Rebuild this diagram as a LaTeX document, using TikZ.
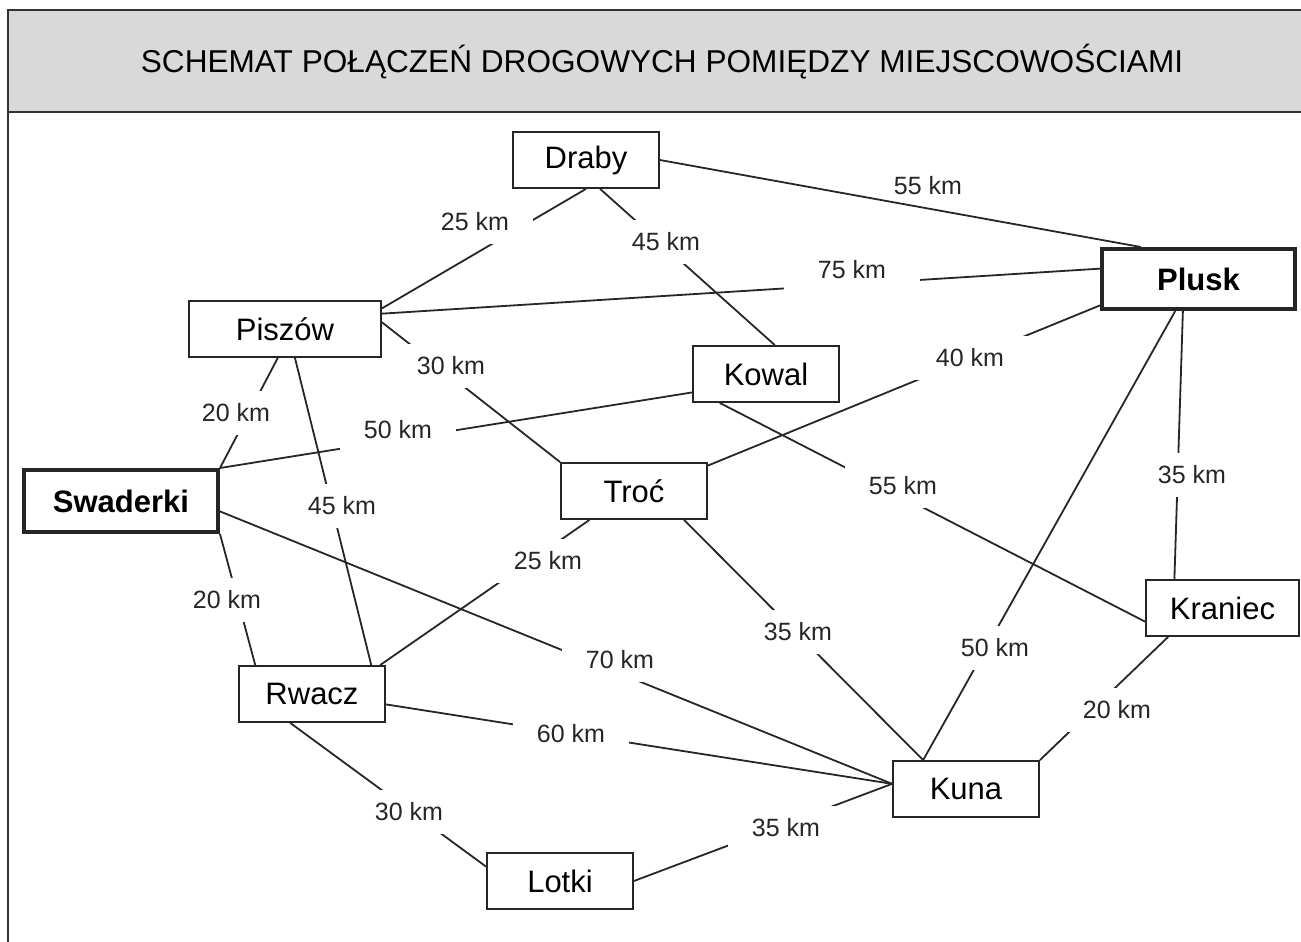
\documentclass[tikz,border=0pt]{standalone}
\usepackage{fontspec}
\setmainfont{Liberation Sans}
\usetikzlibrary{calc}

\tikzset{
	town/.style={draw=black!85, line width=1.8pt, fill=white, minimum width=146pt, minimum height=56pt, inner sep=0pt, font=\fontsize{31}{37}\selectfont},
	bigtown/.style={town, line width=4pt, font=\fontsize{31}{37}\selectfont\bfseries},
	road/.style={line width=1.8pt, black!85},
	dist/.style={fill=white, inner xsep=24pt, inner ysep=13pt, text=black!85, font=\fontsize{25}{30}\selectfont},
}

\begin{document}
\begin{tikzpicture}[x=1pt,y=-1pt]
	\useasboundingbox (0,0) rectangle (1301,942);
	\begin{scope}
		\clip (0,0) rectangle (1301,942);
		\fill[black!15] (8,10) rectangle (1330,112);	%header
		\draw[line width=2.5pt, black!80] (8,10) rectangle (1330,960);
		\draw[line width=2.5pt, black!80] (8,112) -- (1330,112);
	\end{scope}
	\node[font=\fontsize{31.6}{38}\selectfont] (title) at (662,62) {SCHEMAT POŁĄCZEŃ DROGOWYCH POMIĘDZY MIEJSCOWOŚCIAMI};
	
	\node[town] (draby)   at (586,160) {Draby};
	\node[town, minimum width=192pt] (piszow) at (285,329) {Piszów};
	\node[town] (kowal)   at (766,374) {Kowal};
	\node[bigtown, minimum width=193pt, minimum height=60pt] (plusk) at (1198.5,279) {Plusk};
	\node[bigtown, minimum width=194pt, minimum height=62pt] (swaderki) at (121,501) {Swaderki};
	\node[town] (troc)    at (634,491) {Troć};
	\node[town, minimum width=153pt] (kraniec) at (1222.5,608) {Kraniec};
	\node[town] (rwacz)   at (312,694) {Rwacz};
	\node[town] (kuna)    at (966,789) {Kuna};
	\node[town] (lotki)   at (560,881) {Lotki};
	
	\draw[road] (draby.east)--(plusk.151);			%Draby--Plusk
	\draw[road] (draby.south)--(piszow.12);			%Draby--Piszow
	\draw[road] (draby.296)--(kowal.73);			%Draby--Kowal
	\draw[road] (piszow.9)--(plusk.174);			%Piszow--Plusk
	\draw[road] (piszow.4)--(troc.north west);		%Piszow--Troc
	\draw[road] (piszow.256)--(swaderki.north east);	%Piszow--Swaderki
	\draw[road] (piszow.289)--(rwacz.26);			%Piszow--Rwacz
	\draw[road] (swaderki.north east)--(kowal.194);	%Swaderki--Kowal
	\draw[road] (troc.19)--(plusk.195);				%Troc--Plusk
	\draw[road] (kowal.212)--(kraniec.190);			%Kowal--Kraniec
	\draw[road] (plusk.244)--(kraniec.149);			%Plusk--Kraniec
	\draw[road] (plusk.234)--(kuna.146);			%Plusk--Kuna
	\draw[road] (kraniec.208)--(kuna.north east);	%Kraniec--Kuna
	\draw[road] (troc.330)--(kuna.146);				%Troc--Kuna
	\draw[road] (troc.213)--(rwacz.23);				%Troc--Rwacz
	\draw[road] (swaderki.354)--(kuna.176);			%Swaderki--Kuna
	\draw[road] (rwacz.352)--(kuna.176);			%Rwacz--Kuna
	\draw[road] (swaderki.south east)--(rwacz.153);	%Swaderki--Rwacz
	\draw[road] (rwacz.233)--(lotki.169);			%Rwacz--Lotki
	\draw[road] (lotki.east)--(kuna.176);			%Lotki--Kuna
	
	\node[dist, inner xsep=3pt, inner ysep=1pt] (d1) at (928,186) {55 km};
	\node[dist] (d2)  at (475,222)  {25 km};
	\node[dist] (d3)  at (666,242)  {45 km};
	\node[dist, inner xsep=34pt] (d4) at (852,270) {75 km};
	\node[dist] (d5)  at (451,366)  {30 km};
	\node[dist, inner xsep=20pt] (d6) at (236,413) {20 km};
	\node[dist] (d7)  at (342,506)  {45 km};
	\node[dist] (d8)  at (398,430)  {50 km};
	\node[dist] (d9)  at (970,358)  {40 km};
	\node[dist] (d10) at (903,486)  {55 km};
	\node[dist] (d11) at (1192,475) {35 km};
	\node[dist] (d12) at (995,648)  {50 km};
	\node[dist] (d13) at (1117,710) {20 km};
	\node[dist] (d14) at (798,632)  {35 km};
	\node[dist] (d15) at (548,561)  {25 km};
	\node[dist] (d16) at (620,660)  {70 km};
	\node[dist] (d17) at (571,734)  {60 km};
	\node[dist] (d18) at (227,600)  {20 km};
	\node[dist] (d19) at (409,812)  {30 km};
	\node[dist] (d20) at (786,828)  {35 km};
\end{tikzpicture}
\end{document}
